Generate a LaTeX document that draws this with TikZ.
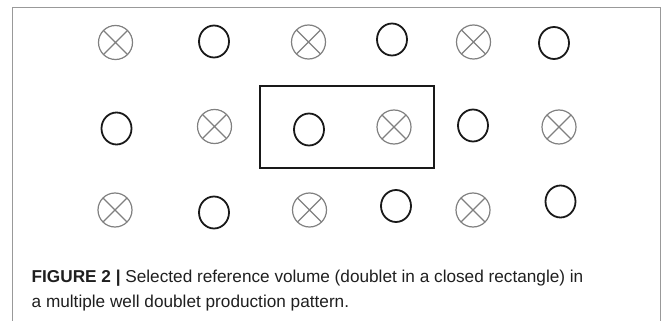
\documentclass[tikz,border=0pt]{standalone}
\usepackage{fontspec}
\usetikzlibrary{shapes.geometric}
\setmainfont{Liberation Sans}
\begin{document}
\begin{tikzpicture}[x=1pt,y=-1pt,
  inj/.style={draw=black!50,line width=1.2pt,circle,minimum size=34pt,inner sep=0pt,
    path picture={\draw[black!50,line width=1.1pt]
      ([shift={(45:17pt)}]path picture bounding box.center) -- ([shift={(225:17pt)}]path picture bounding box.center)
      ([shift={(135:17pt)}]path picture bounding box.center) -- ([shift={(315:17pt)}]path picture bounding box.center);}},
  prod/.style={draw=black!90,line width=1.8pt,ellipse,minimum width=30pt,minimum height=32pt,inner sep=0pt},
  captext/.style={anchor=base west,inner sep=0pt,text=black!88,font=\fontsize{17.2}{20}\selectfont}]
\useasboundingbox (0,0) rectangle (664,321);
% frame
\draw[black!40,line width=1.5pt] (12.5,321) -- (12.5,7.5) -- (660.5,7.5) -- (660.5,321);
% row 1
\node[inj]  (a1) at (115.5,42.5) {};
\node[prod] (a2) at (214,41.5) {};
\node[inj]  (a3) at (308.5,42) {};
\node[prod] (a4) at (392,39.5) {};
\node[inj]  (a5) at (473.5,42) {};
\node[prod] (a6) at (554,43) {};
% row 2
\node[prod] (b1) at (116.5,128.5) {};
\node[inj]  (b2) at (214.5,126.5) {};
\node[prod] (b3) at (309,129.5) {};
\node[inj]  (b4) at (394,127) {};
\node[prod] (b5) at (473,125.5) {};
\node[inj]  (b6) at (559,127) {};
% row 3
\node[inj]  (c1) at (115,210) {};
\node[prod] (c2) at (214,212.5) {};
\node[inj]  (c3) at (309.5,210) {};
\node[prod] (c4) at (396,206) {};
\node[inj]  (c5) at (473,210) {};
\node[prod] (c6) at (560.5,201.5) {};
% selected volume
\node[draw=black!90,line width=1.8pt,inner sep=0pt,minimum width=174pt,minimum height=82pt] (sel) at (347,127) {};
% caption
\node[captext] (l1) at (31.5,282) {\textbf{FIGURE 2 |} Selected reference volume (doublet in a closed rectangle) in};
\node[captext] (l2) at (31.5,307) {a multiple well doublet production pattern.};
\end{tikzpicture}
\end{document}
